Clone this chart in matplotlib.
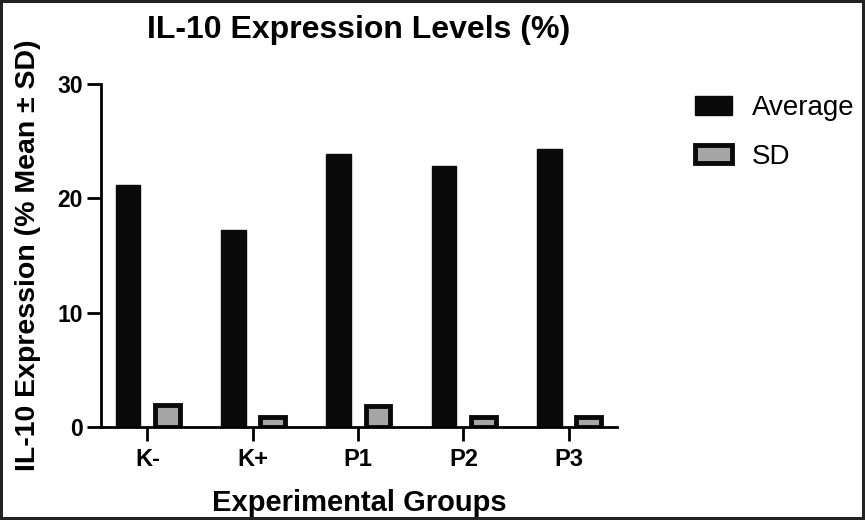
import matplotlib
matplotlib.use("Agg")
import matplotlib.pyplot as plt
import numpy as np

plt.rcParams['font.family'] = ['Liberation Sans', 'DejaVu Sans']

groups = ['K-', 'K+', 'P1', 'P2', 'P3']
average = [21.2, 17.2, 23.9, 22.8, 24.3]
sd = [1.9, 0.9, 1.8, 0.9, 0.9]

fig = plt.figure(figsize=(8.65, 5.2), dpi=100)
fig.patch.set_edgecolor('#222222')
fig.patch.set_linewidth(3)
ax = fig.add_axes([0.1168, 0.179, 0.5962, 0.659])

x = np.arange(len(groups))
w = 0.235
ax.bar(x - 0.185, average, w, color='#0a0a0a', edgecolor='#0a0a0a', linewidth=1, label='Average')
ax.bar(x + 0.19, sd, w, color='#a6a6a6', edgecolor='#0a0a0a', linewidth=3.5, label='SD')

ax.set_xlim(-0.44, 4.455)
ax.set_ylim(0, 30)
ax.set_yticks([0, 10, 20, 30])
ax.set_xticks(x)
ax.set_xticklabels(groups)
for s in ['top', 'right']:
    ax.spines[s].set_visible(False)
for s in ['left', 'bottom']:
    ax.spines[s].set_linewidth(2)
ax.tick_params(axis='both', width=2, length=10)
ax.tick_params(axis='y', labelsize=16.5, pad=3)
ax.tick_params(axis='x', labelsize=17, pad=5)
for lab in ax.get_xticklabels() + ax.get_yticklabels():
    lab.set_fontweight('bold')

ax.set_title('IL-10 Expression Levels (%)', fontsize=23, fontweight='bold', pad=33)
ax.set_xlabel('Experimental Groups', fontsize=21, fontweight='bold', labelpad=13)
ax.set_ylabel('IL-10 Expression (% Mean ± SD)', fontsize=20.5, fontweight='bold', labelpad=12)

leg = ax.legend(loc='upper left', bbox_to_anchor=(695 / 865, 1 - 95 / 520),
                bbox_transform=fig.transFigure, frameon=False, fontsize=20,
                borderpad=0, borderaxespad=0,
                handlelength=1.33, handleheight=0.65, labelspacing=0.82, handletextpad=0.72)

fig.savefig('out.png', dpi=100)
